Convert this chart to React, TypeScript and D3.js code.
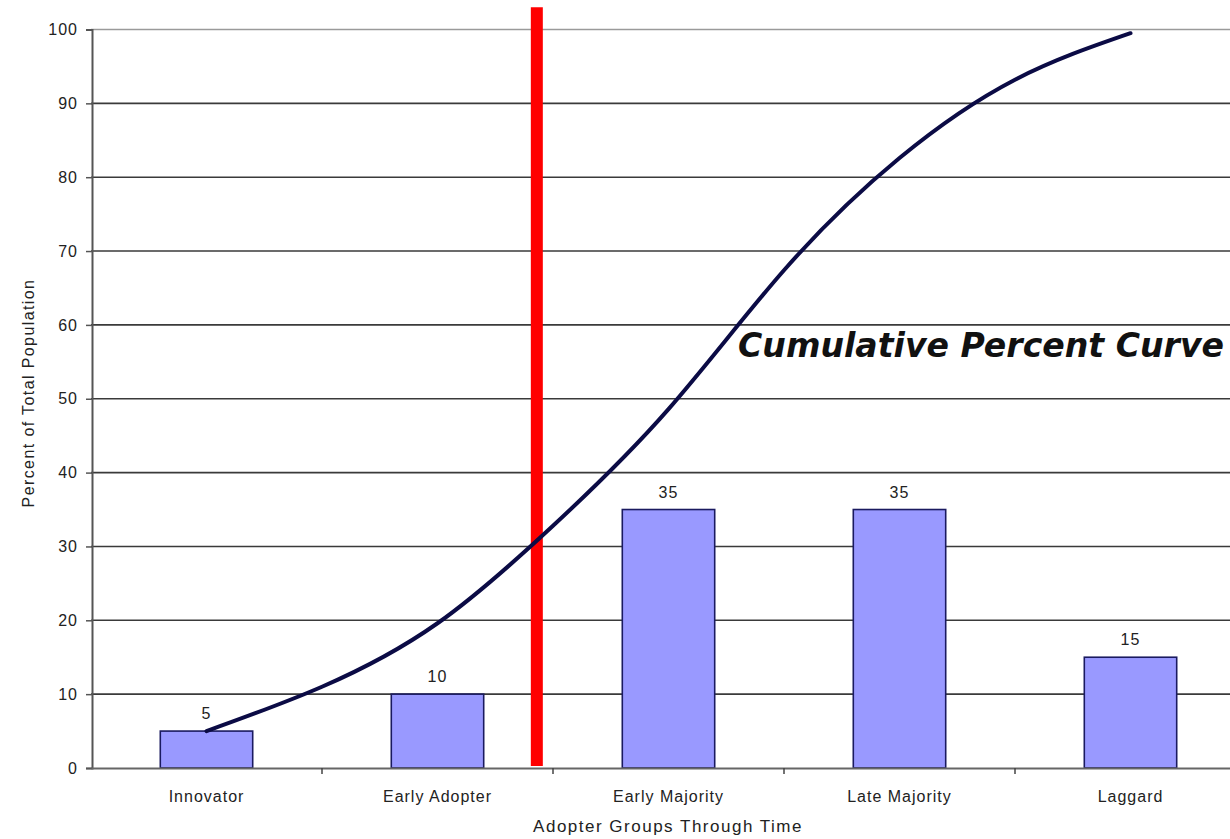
import * as d3 from 'd3';
import React, { useRef, useEffect } from 'react';

const categories = ['Innovator', 'Early Adopter', 'Early Majority', 'Late Majority', 'Laggard']
const barValues = [5, 10, 35, 35, 15]

// cumulative curve, position measured in category units (0 = first category centre)
const curvePos = [0, 0.5, 1, 1.5, 2, 2.5, 3, 3.5, 4]
const curveValues = [5, 11, 19.6, 32.8, 48.6, 67.4, 82.6, 93.2, 99.5]

const yTicks = [0, 10, 20, 30, 40, 50, 60, 70, 80, 90, 100]

// red divider, in category units, and its top value
const dividerPos = 1.43
const dividerTop = 103

const App = () => {
    const ref = useRef<HTMLDivElement>(null)

    const W = 1230
    const H = 839
    const margin = { top: 29.5, left: 91, bottom: 71 }
    const step = 231

    useEffect(() => {
        d3.select(ref.current).selectAll('svg').remove()

        const svg = d3.select(ref.current)
            .append('svg')
            .attr('width', W)
            .attr('height', H)
            .style('position', 'absolute')
            .style('left', 0)
            .style('top', 0)
            .style('background', '#fff')

        const x = d3.scaleBand()
            .domain(categories)
            .range([margin.left, margin.left + step * categories.length])
            .padding(0)

        const xPos = d3.scaleLinear()
            .domain([-0.5, categories.length - 0.5])
            .range([margin.left, margin.left + step * categories.length])

        const y = d3.scaleLinear()
            .domain([0, 100])
            .range([H - margin.bottom, margin.top])

        const font = 'Liberation Sans, Arial, sans-serif'

        // gridlines
        svg.append('g')
            .selectAll('line')
            .data(yTicks.filter(d => d > 0))
            .join('line')
            .attr('x1', margin.left)
            .attr('x2', W)
            .attr('y1', d => y(d))
            .attr('y2', d => y(d))
            .attr('stroke', d => d === 100 ? '#9a9a9a' : '#3a3a3a')
            .attr('stroke-width', 1.6)

        // y axis
        const yAxis = d3.axisLeft(y)
            .tickValues(yTicks)
            .tickSize(6)
            .tickPadding(8)

        const gy = svg.append('g')
            .attr('transform', `translate(${margin.left + 1},0)`)
            .call(yAxis)
        gy.select('.domain').attr('stroke', '#555').attr('stroke-width', 2)
        gy.selectAll('line').attr('stroke', '#555').attr('stroke-width', 1.5)
        gy.selectAll('text')
            .style('font-family', font)
            .style('font-size', '16px')
            .style('letter-spacing', '1px')
            .attr('fill', '#222')

        // bars
        const barW = x.bandwidth() * 0.4
        svg.append('g')
            .selectAll('rect')
            .data(barValues)
            .join('rect')
            .attr('x', (d, i) => x(categories[i]) + (x.bandwidth() - barW) / 2)
            .attr('y', d => y(d))
            .attr('width', barW)
            .attr('height', d => y(0) - y(d))
            .attr('fill', '#9999ff')
            .attr('stroke', '#1a1a60')
            .attr('stroke-width', 1.6)

        // bar labels
        svg.append('g')
            .selectAll('text')
            .data(barValues)
            .join('text')
            .attr('x', (d, i) => x(categories[i]) + x.bandwidth() / 2)
            .attr('y', d => y(d) - 12)
            .attr('text-anchor', 'middle')
            .style('font-family', font)
            .style('font-size', '16px')
            .style('letter-spacing', '1px')
            .attr('fill', '#222')
            .text(d => d)

        // x axis
        const xAxis = d3.axisBottom(x).tickSize(0).tickPadding(23)
        const gx = svg.append('g')
            .attr('transform', `translate(0,${y(0)})`)
            .call(xAxis)
        gx.select('.domain').attr('stroke', '#666').attr('stroke-width', 2)
        gx.selectAll('text')
            .style('font-family', font)
            .style('font-size', '16px')
            .style('letter-spacing', '1px')
            .attr('fill', '#222')

        // tick marks between categories
        svg.append('g')
            .selectAll('line')
            .data(categories.slice(1))
            .join('line')
            .attr('x1', d => x(d))
            .attr('x2', d => x(d))
            .attr('y1', y(0))
            .attr('y2', y(0) + 6)
            .attr('stroke', '#444')
            .attr('stroke-width', 1.5)

        // red divider
        svg.append('line')
            .attr('x1', xPos(dividerPos))
            .attr('x2', xPos(dividerPos))
            .attr('y1', y(dividerTop))
            .attr('y2', y(0) - 2)
            .attr('stroke', '#ff0000')
            .attr('stroke-width', 12)

        // cumulative curve
        const pts = curvePos.map((p, i) => [p, curveValues[i]])
        svg.append('path')
            .datum(pts)
            .attr('fill', 'none')
            .attr('stroke', '#0b0b45')
            .attr('stroke-width', 4)
            .attr('stroke-linecap', 'round')
            .attr('d', d3.line()
                .x(d => xPos(d[0]))
                .y(d => y(d[1]))
                .curve(d3.curveNatural))

        svg.append('text')
            .attr('x', 738)
            .attr('y', 357)
            .style('font-family', 'DejaVu Sans, Verdana, sans-serif')
            .style('font-weight', 'bold')
            .style('font-style', 'italic')
            .style('font-size', '33px')
            .attr('textLength', 486)
            .attr('lengthAdjust', 'spacingAndGlyphs')
            .attr('fill', '#111')
            .text('Cumulative Percent Curve')

        // axis titles
        svg.append('text')
            .attr('x', 668)
            .attr('y', 832)
            .attr('text-anchor', 'middle')
            .style('font-family', font)
            .style('font-size', '17px')
            .style('letter-spacing', '1.5px')
            .attr('fill', '#222')
            .text('Adopter Groups Through Time')

        svg.append('text')
            .attr('transform', `translate(34,${393}) rotate(-90)`)
            .attr('text-anchor', 'middle')
            .style('font-family', font)
            .style('font-size', '16px')
            .style('letter-spacing', '1.4px')
            .attr('fill', '#222')
            .text('Percent of Total Population')
    }, [])

    return <div ref={ref} />
}

export default App
